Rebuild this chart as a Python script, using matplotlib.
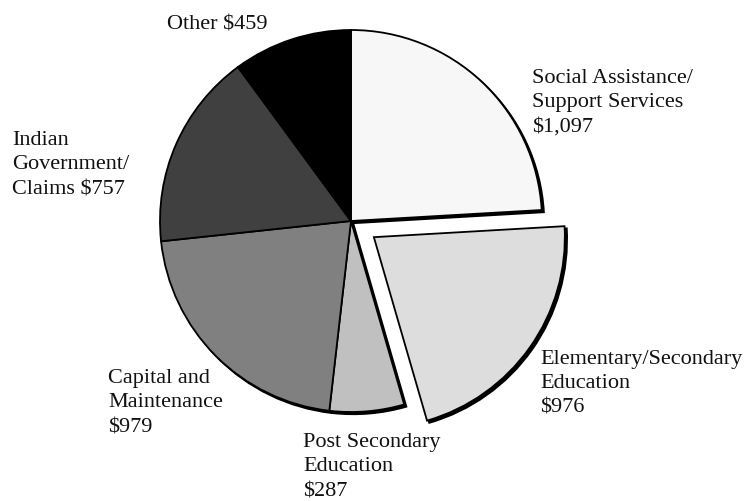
import matplotlib
matplotlib.use("Agg")
import matplotlib.pyplot as plt

categories = ["Social Assistance/\nSupport Services\n$1,097",
              "Elementary/Secondary\nEducation\n$976",
              "Post Secondary\nEducation\n$287",
              "Capital and\nMaintenance\n$979",
              "Indian\nGovernment/\nClaims $757",
              "Other $459"]
values = [1097, 976, 287, 979, 757, 459]
colors = ["#f7f7f7", "#dddddd", "#c0c0c0", "#808080", "#404040", "#000000"]

W, H = 745, 501
cx, cy, R = 351, H - 221, 191
explode_dist = [0, 28, 0, 0, 0, 0]

# label anchor positions (pixel coords: x, last-line baseline y)
label_pos = [(532, 132), (540, 413), (303, 496), (108, 432), (12, 194), (167, 29)]

fig = plt.figure(figsize=(W / 100, H / 100), dpi=100)
ax = fig.add_axes([0, 0, 1, 1])

wedges, _ = ax.pie(values, colors=colors, startangle=90, counterclock=False,
                   explode=explode_dist, center=(cx, cy), radius=R, frame=True,
                   wedgeprops=dict(edgecolor="black", linewidth=1.3),
                   shadow=dict(ox=1.6, oy=-1.6, facecolor="black",
                               edgecolor="black", alpha=1.0))
ax.set_xlim(0, W)
ax.set_ylim(0, H)
ax.set_aspect("equal")
ax.axis("off")

for lab, (x, y) in zip(categories, label_pos):
    ax.text(x, H - y, lab, family="Liberation Serif", fontsize=16,
            ha="left", va="baseline", linespacing=1.4, color="#111111")

fig.savefig("out.png", dpi=100)
